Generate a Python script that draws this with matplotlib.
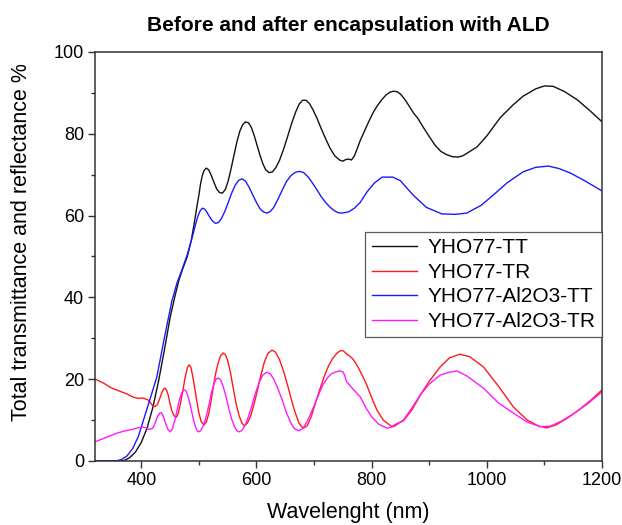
import matplotlib
matplotlib.use("Agg")
import matplotlib.pyplot as plt
from matplotlib.ticker import MultipleLocator

plt.rcParams["font.family"] = ["Liberation Sans", "DejaVu Sans"]

# Wavelength (nm) and values (%)
tt_x = [320, 360, 370, 380, 390, 400, 410, 420, 430, 440, 450, 458, 465, 472, 480,
        487, 493, 497, 500, 503, 506, 509, 513, 517, 521, 526, 531, 536, 541, 546,
        551, 556, 561, 566, 571, 576, 581, 586, 591, 596, 601, 606, 611, 616, 622,
        628, 634, 640, 647, 654, 661, 668, 674, 680, 686, 692, 698, 705, 712, 720,
        728, 736, 744, 750, 755, 760, 765, 770, 775, 780, 787, 795, 803, 810, 818,
        825, 832, 838, 844, 850, 857, 865, 873, 880, 890, 900, 910, 920, 930, 940,
        950, 958, 965, 983, 1000, 1023, 1045, 1063, 1085, 1100, 1115, 1135, 1157, 1180, 1200]
tt_y = [0, 0, 0.1, 0.8, 2.2, 4.5, 8, 13, 19.5, 27, 35, 40, 44, 47, 50,
        54, 59, 62.5, 65, 67.8, 69.8, 71, 71.6, 71.2, 70, 68.2, 66.5, 65.6, 65.5, 66.4,
        68.5, 71.5, 74.8, 78, 80.6, 82.2, 82.9, 82.7, 81.6, 79.6, 77.2, 74.8, 72.7, 71.2, 70.5,
        70.7, 71.8, 73.5, 76.2, 79.3, 82.5, 85.3, 87.2, 88.2, 88.2, 87.4, 85.9, 83.8, 81.4, 78.8,
        76.4, 74.6, 73.6, 73.3, 73.7, 73.8, 73.6, 74.6, 76.4, 78.3, 80.5, 83, 85.3, 86.9, 88.4,
        89.5, 90.2, 90.4, 90.3, 89.7, 88.5, 86.8, 85, 83.8, 81.5, 79.3, 77.2, 75.7, 74.9, 74.4,
        74.3, 74.6, 75.2, 76.8, 79.5, 83.9, 87, 89.2, 91, 91.7, 91.6, 90.3, 88.3, 85.5, 82.9]

tr_x = [320, 335, 346, 360, 375, 386, 395, 403, 412, 416, 420, 424, 428, 432, 436,
        439, 441, 444, 447, 450, 453, 457, 461, 464, 468, 472, 476, 480, 483, 486,
        489, 492, 496, 500, 504, 509, 513, 517, 521, 525, 529, 533, 537, 542, 546,
        550, 555, 560, 565, 570, 575, 579, 584, 590, 596, 602, 608, 614, 620, 627,
        633, 640, 648, 655, 662, 668, 674, 681, 688, 695, 702, 710, 718, 725, 732,
        740, 746, 751, 756, 762, 767, 772, 778, 789, 800, 809, 820, 835, 845, 855,
        870, 884, 900, 919, 935, 953, 970, 994, 1020, 1046, 1070, 1090, 1104, 1120, 1140,
        1160, 1180, 1200]
tr_y = [20, 19, 18, 17.2, 16.4, 15.6, 15.3, 15.4, 14.9, 14.2, 13.5, 13.3, 13.8, 15.2, 16.8,
        17.6, 17.8, 17.3, 16, 14, 12.3, 11, 10.7, 11.5, 14, 17, 20.3, 22.8, 23.5, 23,
        21, 18.5, 15, 11.8, 9.6, 8.8, 9.5, 11.5, 14.5, 18, 21.3, 23.7, 25.5, 26.4, 26,
        24.6, 21.5, 17.5, 13.8, 11, 9.2, 8.6, 9.2, 11, 14, 17.5, 21.2, 24.3, 26.3, 27.1,
        26.6, 24.8, 21.5, 18, 14.3, 11.5, 9.2, 8, 8.6, 10.8, 14, 17.5, 20.8, 23.2, 25,
        26.4, 27, 26.9, 26.2, 25.6, 25, 24, 22.5, 19.4, 15.5, 12.5, 10, 8.4, 9.2, 9.8,
        12.5, 16, 19.5, 23, 25.2, 26.1, 25.5, 23, 18.3, 13.2, 10, 8.5, 8.1, 8.8, 10.5,
        12.5, 14.8, 17.4]

al_tt_x = [320, 355, 365, 375, 385, 395, 405, 415, 427, 440, 453, 462, 470, 480, 490,
           494, 498, 502, 506, 510, 514, 519, 524, 529, 534, 539, 545, 551, 557, 563,
           569, 575, 581, 587, 593, 600, 606, 612, 618, 624, 630, 637, 645, 652, 660,
           668, 675, 682, 690, 697, 705, 712, 720, 728, 735, 742, 748, 760, 770, 780,
           792, 805, 818, 837, 850, 872, 895, 922, 945, 965, 990, 1011, 1035, 1063, 1085,
           1107, 1125, 1145, 1170, 1200]
al_tt_y = [0, 0, 0.3, 1.2, 3, 6, 10.5, 15, 20.5, 30, 39, 43.5, 46.5, 50.5, 55.5,
           57.7, 59.7, 61.1, 61.8, 61.6, 60.8, 59.6, 58.6, 58.1, 58.3, 59.2, 61, 63.2, 65.5, 67.4,
           68.6, 69, 68.4, 67, 65.2, 63.2, 61.7, 60.9, 60.6, 61, 62, 63.9, 66.3, 68.3, 69.8,
           70.6, 70.8, 70.5, 69.4, 68, 66.3, 64.7, 63.2, 62, 61.2, 60.7, 60.6, 60.9, 61.8, 63.2,
           65.8, 68, 69.4, 69.4, 68.5, 65, 62, 60.4, 60.3, 60.6, 62.5, 65, 68, 70.7, 71.8,
           72.1, 71.5, 70.4, 68.5, 66]

al_tr_x = [320, 340, 358, 370, 381, 392, 401, 408, 414, 420, 424, 428, 432, 435, 438,
           442, 446, 450, 454, 458, 462, 466, 470, 474, 477, 480, 484, 488, 492, 496,
           499, 503, 508, 513, 518, 522, 526, 530, 534, 538, 542, 547, 552, 557, 562,
           566, 570, 575, 580, 586, 592, 598, 605, 611, 618, 624, 630, 637, 645, 652,
           660, 666, 673, 680, 687, 694, 700, 708, 715, 723, 730, 738, 745, 750, 753,
           756, 760, 768, 780, 790, 800, 812, 827, 840, 855, 870, 884, 900, 919, 935,
           948, 965, 994, 1020, 1046, 1070, 1092, 1110, 1130, 1150, 1175, 1200]
al_tr_y = [4.7, 5.8, 6.8, 7.3, 7.6, 8, 8.3, 8.1, 7.7, 8, 9.2, 10.8, 11.7, 11.8, 11,
           9.3, 7.8, 7.1, 7.8, 9.8, 12.3, 14.8, 16.6, 17.4, 17.3, 16.3, 14.3, 11.8, 9.3, 7.7,
           7.1, 7.4, 8.7, 11, 14, 16.8, 18.8, 20, 20.3, 19.7, 18.3, 15.8, 12.8, 10.2, 8.3,
           7.4, 7.1, 7.5, 8.6, 10.8, 13.5, 16.5, 19.3, 21, 21.7, 21.3, 20, 17.8, 14.8, 11.8,
           9.2, 7.9, 7.4, 7.9, 9.4, 11.5, 13.5, 16.3, 18.5, 20.3, 21.3, 21.8, 22, 21.8, 21,
           19.5, 18.8, 17.5, 15.7, 13, 10.8, 9, 8, 8.5, 10, 13, 16.1, 18.8, 21, 21.7,
           22, 20.8, 17.8, 14.2, 11.7, 9.5, 8.4, 8.5, 9.8, 11.5, 14, 16.9]

fig = plt.figure(figsize=(6.22, 5.25), dpi=100)
ax = fig.add_axes([0.153, 0.122, 0.815, 0.779])

lw = 1.0
ax.plot(tt_x, tt_y, color="#111111", lw=lw, label="YHO77-TT")
ax.plot(tr_x, tr_y, color="#ff1a1a", lw=lw, label="YHO77-TR")
ax.plot(al_tt_x, al_tt_y, color="#1a1aff", lw=lw, label="YHO77-Al2O3-TT")
ax.plot(al_tr_x, al_tr_y, color="#ff1aff", lw=lw, label="YHO77-Al2O3-TR")

ax.set_xlim(320, 1200)
ax.set_ylim(0, 100)
ax.xaxis.set_major_locator(MultipleLocator(200))
ax.xaxis.set_minor_locator(MultipleLocator(100))
ax.yaxis.set_major_locator(MultipleLocator(20))
ax.yaxis.set_minor_locator(MultipleLocator(10))
ax.tick_params(which="major", direction="out", length=5, width=1, color="#333333",
               labelsize=13, pad=3, top=False, right=False)
ax.tick_params(which="minor", direction="out", length=3, width=1, color="#333333",
               top=False, right=False)
for s in ax.spines.values():
    s.set_color("#333333")
    s.set_linewidth(1.1)

ax.set_xlabel("Wavelenght (nm)", fontsize=15.5, labelpad=9)
ax.set_ylabel("Total transmittance and reflectance %", fontsize=15.5)
ax.yaxis.set_label_coords(-0.125, 0.535)
ax.set_title("Before and after encapsulation with ALD", fontsize=15,
             fontweight="bold", pad=15)

leg = ax.legend(loc="upper left", bbox_to_anchor=(0.533, 0.56), fontsize=15,
                frameon=True, fancybox=False, handlelength=2.2, handletextpad=0.5,
                borderpad=0.3, labelspacing=0.27, borderaxespad=0)
leg.get_frame().set_edgecolor("#333333")
leg.get_frame().set_linewidth(0.9)

fig.savefig("out.png", dpi=100)
